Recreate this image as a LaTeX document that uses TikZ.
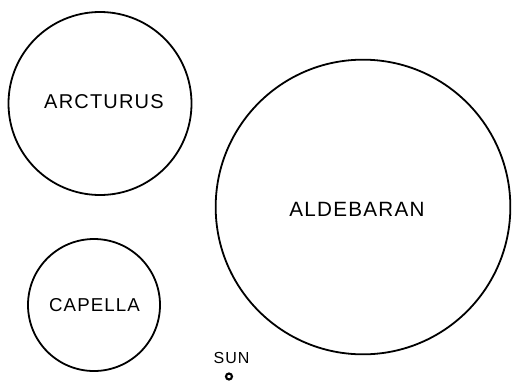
\documentclass[tikz,border=0pt]{standalone}
\usepackage{fontspec}
\setmainfont{Liberation Sans}
\begin{document}
\begin{tikzpicture}[x=0.75pt,y=-0.75pt,
  star/.style={circle,draw,line width=1.35pt,inner sep=0pt,minimum size=#1},
  lbl/.style={inner sep=0pt,font=\fontsize{#1}{#1}\selectfont\addfontfeature{LetterSpace=6}}]
\useasboundingbox (0,0) rectangle (513,382);
\node[star=137.25pt] (arcturus) at (100,103.5) {};
\node[star=221pt] (aldebaran) at (363,207) {};
\node[star=99pt] (capella) at (94,305) {};
\node[star=4.5pt,line width=1.6pt] (sun) at (229,376.5) {};
\node[lbl=15] (arcturuslbl) at (104,102) {ARCTURUS};
\node[lbl=15.5] (aldebaranlbl) at (357,209.5) {ALDEBARAN};
\node[lbl=14] (capellalbl) at (94.5,305) {CAPELLA};
\node[lbl=12] (sunlbl) at (231.5,357.5) {SUN};
\end{tikzpicture}
\end{document}
